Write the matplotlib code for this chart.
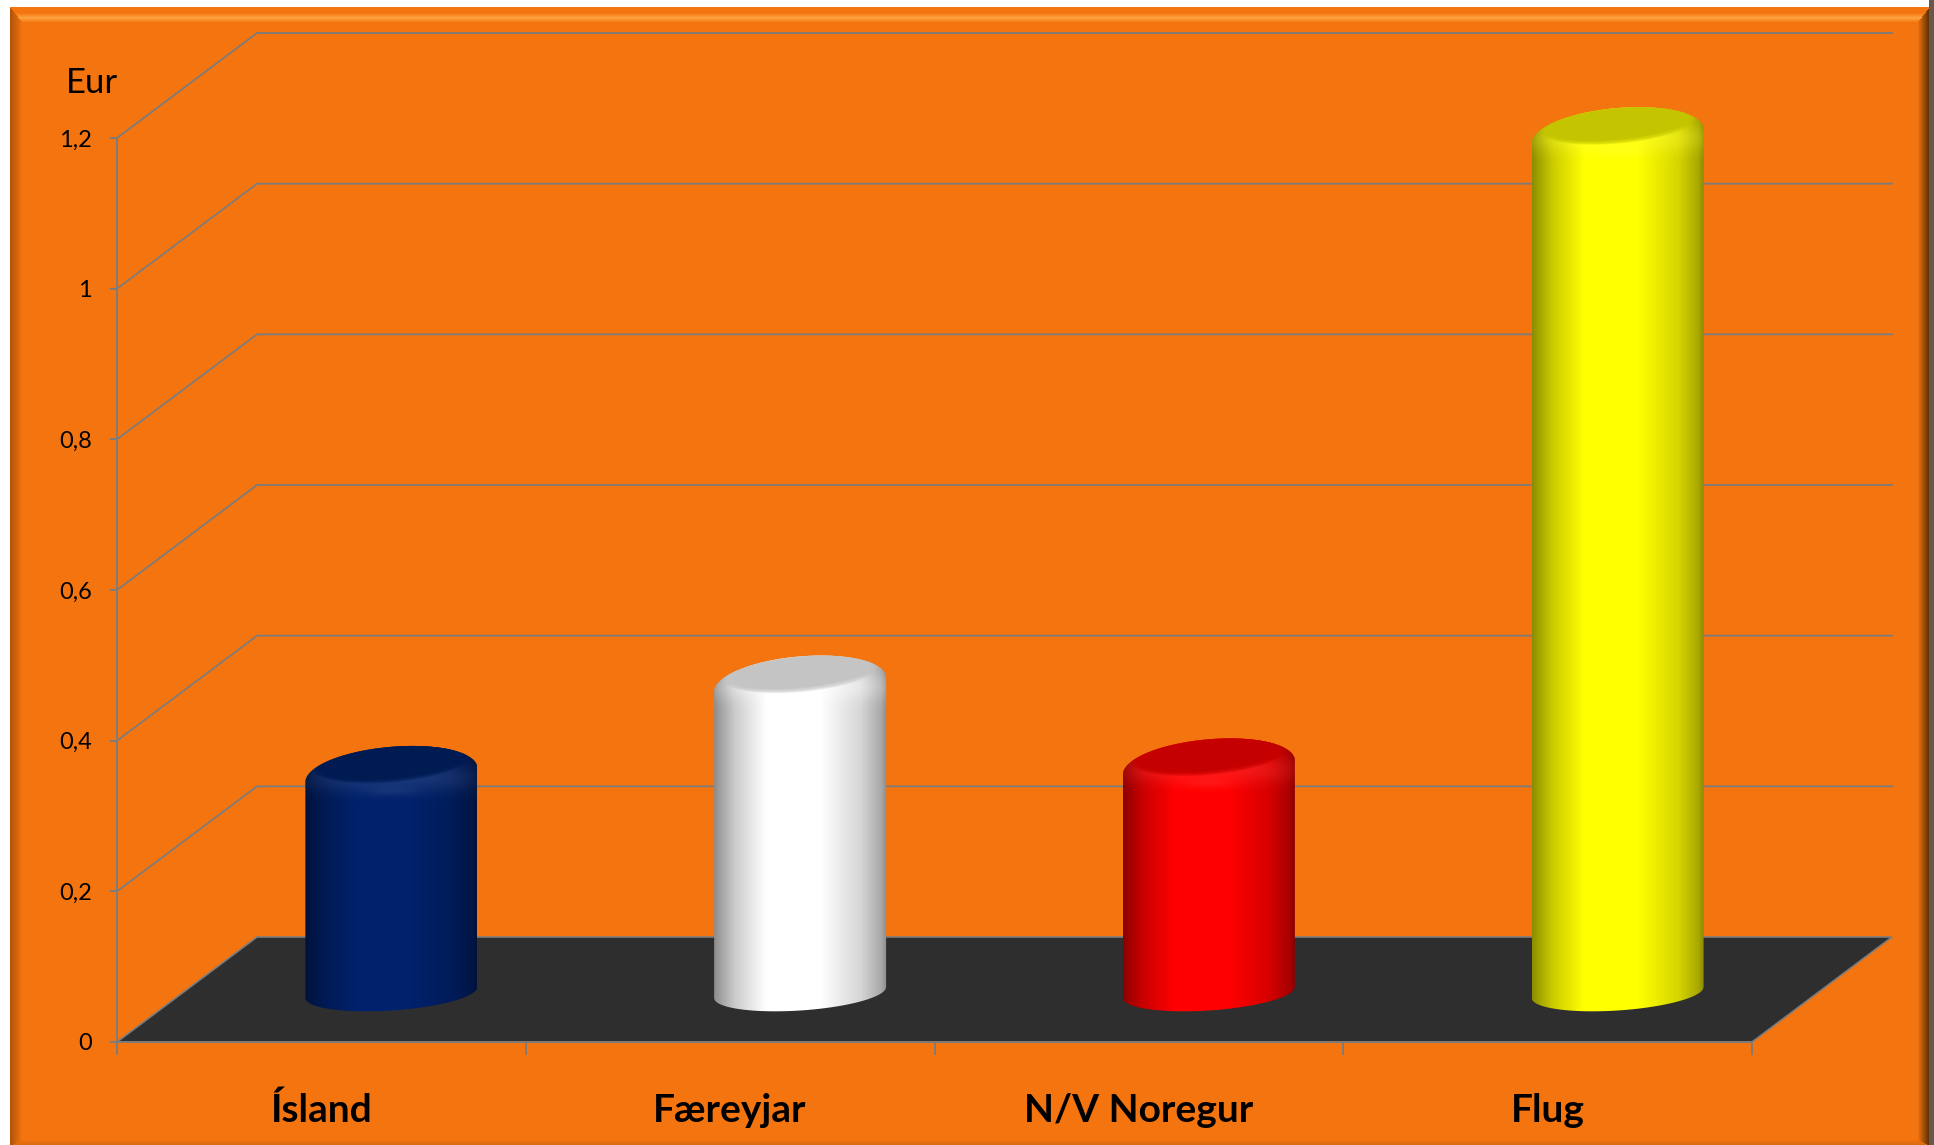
import matplotlib
matplotlib.use('Agg')
import matplotlib.pyplot as plt
import numpy as np
from matplotlib.patches import Polygon, PathPatch
from matplotlib.path import Path
from matplotlib.ticker import FuncFormatter

# data
categories = ['Ísland', 'Færeyjar', 'N/V Noregur', 'Flug']
values = [0.285, 0.405, 0.295, 1.133]
bar_colors = [(0.0, 0.13, 0.42), (1.0, 1.0, 1.0), (1.0, 0.0, 0.0), (1.0, 1.0, 0.0)]
y_ticks = [0, 0.2, 0.4, 0.6, 0.8, 1.0, 1.2]

W, H = 1934, 1145
AX_L, AX_R, AX_T, AX_B = 117, 1752, 138, 1042
PX_X = 4 / (AX_R - AX_L)   # data units per pixel
PX_Y = 1.2 / (AX_B - AX_T)
DEPTH_X = 140 * PX_X
DEPTH_Y = 105 * PX_Y
GRAY = '#7c7c7c'

fig = plt.figure(figsize=(W / 100, H / 100), dpi=100, facecolor='white')
plt.rcParams['font.family'] = ['Lato', 'DejaVu Sans']


# orange panel with bevelled edges, built per pixel
def make_panel():
    yy, xx = np.mgrid[0:H, 0:W]
    base = np.array([244, 117, 15]) / 255.
    img = np.ones((H, W, 3))
    img[:, :] = base
    top = np.clip((yy - 7) / 15., 0, 1)
    left = np.clip((xx - 10) / 12., 0, 1)
    right = np.clip((1929 - xx) / 12., 0, 1)
    bottom = np.clip((H - yy) / 6., 0, 1)
    side = np.argmin(np.stack([top, left, right, bottom]), axis=0)
    amount = np.min(np.stack([top, left, right, bottom]), axis=0)
    top_col = np.interp(amount, [0, 0.35, 0.7, 1], [0, 0, 1, 0])
    for c, light in enumerate([255, 165, 65]):
        chan = img[:, :, c]
        chan[side == 0] = (base[c] + (light / 255. - base[c]) * top_col)[side == 0]
    left_dark = np.array([178, 84, 8]) / 255.
    right_dark = np.array([88, 44, 6]) / 255.
    bottom_dark = np.array([214, 104, 20]) / 255.
    for c in range(3):
        chan = img[:, :, c]
        chan[side == 1] = (left_dark[c] + (base[c] - left_dark[c]) * amount)[side == 1]
        chan[side == 2] = (right_dark[c] + (base[c] - right_dark[c]) * amount)[side == 2]
        chan[side == 3] = (bottom_dark[c] + (base[c] - bottom_dark[c]) * amount)[side == 3]
    img[:, :10] = 1
    img[:7, :] = 1
    img[:, 1929:] = np.array([104, 88, 72]) / 255.
    return img


bg = fig.add_axes([0, 0, 1, 1], zorder=0)
bg.imshow(make_panel(), aspect='auto', interpolation='nearest')
bg.axis('off')

ax = fig.add_axes([AX_L / W, 1 - AX_B / H, (AX_R - AX_L) / W, (AX_B - AX_T) / H], zorder=1)
ax.patch.set_alpha(0)

# floor
ax.add_patch(Polygon([(0, 0), (DEPTH_X, DEPTH_Y), (4 + DEPTH_X, DEPTH_Y), (4, 0)],
                     closed=True, facecolor='#2e2e2e', edgecolor=GRAY, linewidth=1.2,
                     clip_on=False, zorder=1))

# back wall lines
for v in y_ticks[1:]:
    ax.plot([0, DEPTH_X, 4 + DEPTH_X], [v, v + DEPTH_Y, v + DEPTH_Y], color=GRAY,
            linewidth=1.3, clip_on=False, zorder=1, solid_joinstyle='miter')


def ellipse(cx, cy, a, b, s, t):
    return cx + a * PX_X * np.cos(t), cy + (s * np.cos(t) + b * np.sin(t)) * PX_Y


def draw_cylinder(i, value, color):
    color = np.array(color)
    cx = i + 0.5 + DEPTH_X / 2
    y0 = DEPTH_Y / 2 - 3 * PX_Y
    y1 = DEPTH_Y / 2 + value
    a = 86

    # outline: upper half of the top ellipse, lower half of the base ellipse
    tx, ty = ellipse(cx, y1, a, 28, 7, np.linspace(0, np.pi, 80))
    bx, by = ellipse(cx, y0, a, 18, 5.5, np.linspace(np.pi, 2 * np.pi, 80))
    verts = np.column_stack([np.r_[tx, bx], np.r_[ty, by]])
    outline = PathPatch(Path(np.vstack([verts, verts[0]]), closed=True),
                        transform=ax.transData, facecolor='none', edgecolor='none',
                        clip_on=False)
    ax.add_patch(outline)

    # body shading runs across the width
    t = np.linspace(0, 1, 172)
    shade = np.interp(t, [0, 0.03, 0.12, 0.3, 0.62, 0.85, 0.97, 1],
                      [0.55, 0.62, 0.8, 1, 1, 0.84, 0.66, 0.55])
    body = shade[None, :, None] * color[None, None, :]
    ext = [cx - a * PX_X, cx + a * PX_X, y0 - 30 * PX_Y, y1 + 40 * PX_Y]
    im = ax.imshow(body, extent=ext, aspect='auto', zorder=3, interpolation='bilinear')
    im.set_clip_path(outline)
    im.set_clip_box(fig.bbox)

    # rounded rim, brighter than the body edges, with a small highlight in front
    px = np.arange(-90, 91)
    py = np.arange(-50, 31)
    gx, gy = np.meshgrid(px, py)
    spot = np.exp(-(gx / 26.) ** 2 - ((gy + 16) / 5.) ** 2)
    band = np.exp(-(gx / 85.) ** 4 - ((gy + 2) / 14.) ** 2)
    glow = np.zeros(gx.shape + (4,))
    glow[:, :, :3] = color * 0.8 + 0.2
    glow[:, :, 3] = np.clip(0.26 * spot + 0.5 * band, 0, 1)
    ext = [cx - 90 * PX_X, cx + 90 * PX_X, y1 - 50 * PX_Y, y1 + 30 * PX_Y]
    im = ax.imshow(glow, extent=ext, aspect='auto', zorder=4, interpolation='bilinear', origin='lower')
    im.set_clip_path(outline)
    im.set_clip_box(fig.bbox)

    # darker cap, edge softened with a few layers
    theta = np.linspace(0, 2 * np.pi, 120)
    n_layers = 7
    for k in range(n_layers):
        grow = n_layers - 1 - k
        ex, ey = ellipse(cx, y1 + 12 * PX_Y, 70 + grow * 1.3, 15.5 + grow * 0.7, 6.5, theta)
        cap = Polygon(np.column_stack([ex, ey]), closed=True, zorder=5 + k * 0.1,
                      facecolor=color * 0.77, edgecolor='none',
                      alpha=0.25 if k < n_layers - 1 else 1.0)
        ax.add_patch(cap)
        cap.set_clip_path(outline)
        cap.set_clip_box(fig.bbox)


for i, (v, c) in enumerate(zip(values, bar_colors)):
    draw_cylinder(i, v, c)

ax.set_xlim(0, 4)
ax.set_ylim(0, 1.2)
for name in ['top', 'right']:
    ax.spines[name].set_visible(False)
for name in ['left', 'bottom']:
    ax.spines[name].set_color(GRAY)
    ax.spines[name].set_linewidth(1.4)
    ax.spines[name].set_zorder(2)

ax.set_yticks(y_ticks)
ax.yaxis.set_major_formatter(FuncFormatter(lambda v, pos: f'{v:g}'.replace('.', ',')))
ax.tick_params(axis='y', length=5, width=1.4, color=GRAY, pad=13, labelsize=17, labelcolor='black')

ax.set_xticks(range(5))
ax.set_xticklabels([])
ax.tick_params(axis='x', which='major', length=9, width=1.4, color=GRAY)
ax.set_xticks([i + 0.5 for i in range(4)], minor=True)
ax.set_xticklabels(categories, minor=True, fontsize=28, fontweight='bold', va='baseline')
ax.tick_params(axis='x', which='minor', length=0, pad=57.6)

fig.text(66 / W, 1 - 93 / H, 'Eur', fontsize=25, color='black', va='baseline', zorder=3)

fig.savefig('out.png', dpi=100)
